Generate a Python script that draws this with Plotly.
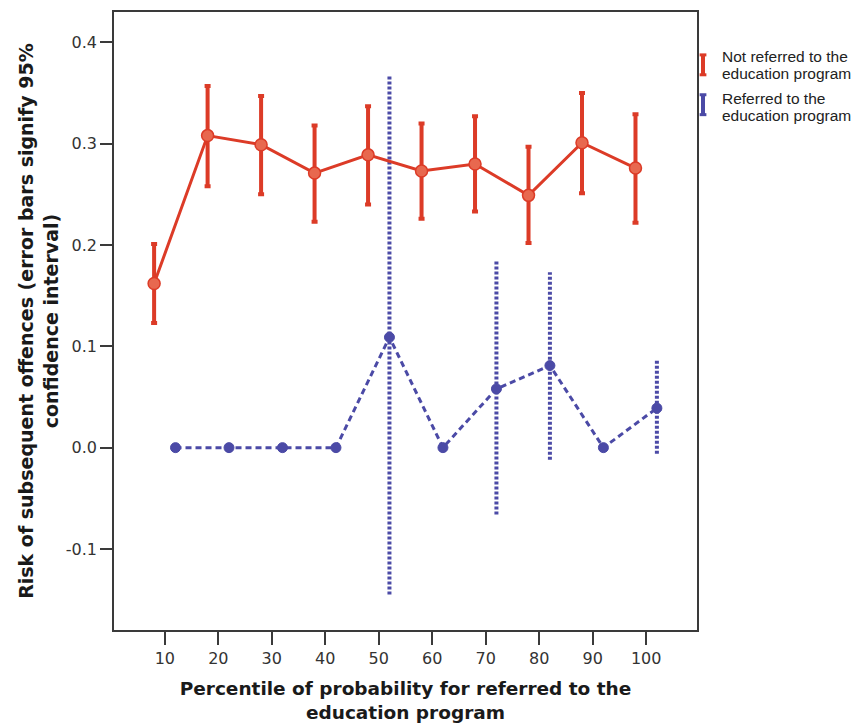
import plotly.graph_objects as go

# Data
x_not = [8, 18, 28, 38, 48, 58, 68, 78, 88, 98]
y_not = [0.162, 0.308, 0.299, 0.271, 0.289, 0.273, 0.280, 0.249, 0.301, 0.276]
lo_not = [0.123, 0.258, 0.250, 0.223, 0.240, 0.226, 0.233, 0.202, 0.251, 0.222]
hi_not = [0.201, 0.357, 0.347, 0.318, 0.337, 0.320, 0.327, 0.297, 0.350, 0.329]

x_ref = [12, 22, 32, 42, 52, 62, 72, 82, 92, 102]
y_ref = [0.0, 0.0, 0.0, 0.0, 0.109, 0.0, 0.058, 0.081, 0.0, 0.039]
lo_ref = [None, None, None, None, -0.145, None, -0.066, -0.012, None, -0.006]
hi_ref = [None, None, None, None, 0.368, None, 0.184, 0.173, None, 0.086]

x_ticks = [10, 20, 30, 40, 50, 60, 70, 80, 90, 100]
y_ticks = [-0.1, 0.0, 0.1, 0.2, 0.3, 0.4]
y_ticktext = ["-0.1", "0.0", "0.1", "0.2", "0.3", "0.4"]

legend_lines = [("Not referred to the", "education program"),
                ("Referred to the", "education program")]

RED = "#dc3b27"
RED_FILL = "#e8684f"
BLUE = "#4b4aa6"
FONT = "DejaVu Sans, Liberation Sans, sans-serif"
LEG_FONT = "Liberation Sans, Arial, sans-serif"

fig = go.Figure()

# Blue error bars (dotted) built from data
ex, ey = [], []
for xv, lo, hi in zip(x_ref, lo_ref, hi_ref):
    if lo is None:
        continue
    ex += [xv, xv, None]
    ey += [lo, hi, None]
fig.add_trace(go.Scatter(x=ex, y=ey, mode="lines",
                         line=dict(color=BLUE, width=4, dash="3px,2px"),
                         showlegend=False, hoverinfo="skip"))

fig.add_trace(go.Scatter(
    x=x_ref, y=y_ref, mode="lines+markers",
    line=dict(color=BLUE, width=3, dash="6px,4px"),
    marker=dict(symbol="circle", size=10, color=BLUE, line=dict(color=BLUE, width=1)),
    name="Referred to the education program", showlegend=False))

fig.add_trace(go.Scatter(
    x=x_not, y=y_not, mode="lines+markers",
    line=dict(color=RED, width=3),
    marker=dict(symbol="circle", size=12, color=RED_FILL, line=dict(color=RED, width=1.5)),
    error_y=dict(type="data", symmetric=False,
                 array=[h - y for h, y in zip(hi_not, y_not)],
                 arrayminus=[y - l for l, y in zip(lo_not, y_not)],
                 color=RED, thickness=4, width=3),
    name="Not referred to the education program", showlegend=False))

axis_common = dict(showline=True, linecolor="#3a3a3a", linewidth=1.5, mirror=True,
                   ticks="outside", tickcolor="#3a3a3a", tickwidth=1.5,
                   showgrid=False, zeroline=False,
                   tickfont=dict(family=FONT, size=16, color="#333333"))

fig.update_layout(
    width=862, height=724,
    margin=dict(l=106, r=173, t=2, b=102),
    paper_bgcolor="white", plot_bgcolor="white",
    font=dict(family=FONT),
    xaxis=dict(range=[0.5, 109.5], tickvals=x_ticks, ticklen=13,
               title=dict(text="<b>Percentile of probability for referred to the<br>education program</b>",
                          font=dict(family=FONT, size=18.5, color="#1a1a1a"), standoff=15),
               **axis_common),
    yaxis=dict(range=[-0.18, 0.43], tickvals=y_ticks, ticktext=y_ticktext,
               ticklen=12,
               title=dict(text="<b>Risk of subsequent offences (error bars signify 95%<br>confidence interval)</b>",
                          font=dict(family=FONT, size=19, color="#1a1a1a"), standoff=2),
               **axis_common),
)

# Manual legend
leg_font = dict(family=LEG_FONT, size=15.5, color="#222222")
line_y = [[0.9274, 0.900], [0.8597, 0.8323]]
for (l1, l2), (ya, yb) in zip(legend_lines, line_y):
    for txt, yy in ((l1, ya), (l2, yb)):
        fig.add_annotation(xref="paper", yref="paper", x=1.0395, y=yy,
                           xanchor="left", yanchor="middle", text=txt,
                           showarrow=False, align="left", font=leg_font)
# legend icons (I-shaped error bar glyphs)
for (y0, y1), col in [((0.8984, 0.9306), RED), ((0.8339, 0.8661), BLUE)]:
    fig.add_shape(type="line", xref="paper", yref="paper", x0=1.0103, x1=1.0103,
                  y0=y0, y1=y1, line=dict(color=col, width=4))
    for yy in (y0, y1):
        fig.add_shape(type="line", xref="paper", yref="paper", x0=1.0045, x1=1.0161,
                      y0=yy, y1=yy, line=dict(color=col, width=3))

fig.write_html("out.html")
